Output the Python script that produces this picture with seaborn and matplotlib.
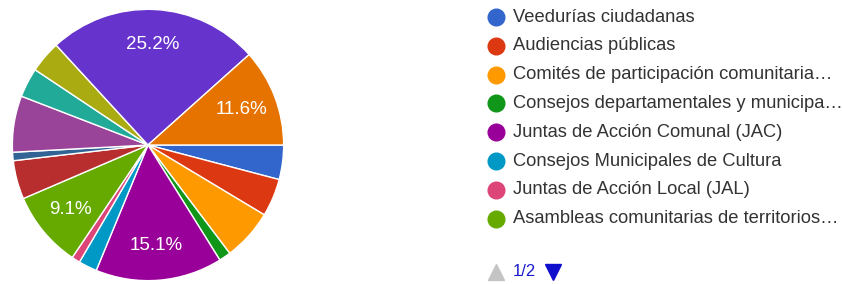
import matplotlib
matplotlib.use("Agg")
import matplotlib.pyplot as plt
import seaborn as sns

# legend entries shown on page 1/2
categories = [
    "Veedurías ciudadanas",
    "Audiencias públicas",
    "Comités de participación comunitaria…",
    "Consejos departamentales y municipa…",
    "Juntas de Acción Comunal (JAC)",
    "Consejos Municipales de Cultura",
    "Juntas de Acción Local (JAL)",
    "Asambleas comunitarias de territorios…",
]
# all 15 slices (percent), in chart order
values = [4.1, 4.5, 6.1, 1.4, 15.1, 2.2, 1.0, 9.1, 4.6, 1.0, 6.7, 3.5, 3.8, 25.2, 11.6]
colors = ["#3366cc", "#dc3912", "#ff9900", "#109618", "#990099", "#0099c6",
          "#dd4477", "#66aa00", "#b82e2e", "#316395", "#994499", "#22aa99",
          "#aaaa11", "#6633cc", "#e67300"]
page_label = "1/2"

sns.set_theme(style="white")
plt.rcParams["font.family"] = ["Liberation Sans", "DejaVu Sans"]
palette = sns.color_palette(colors)

fig = plt.figure(figsize=(8.42, 2.84), dpi=100)
W, H = 842, 284
cx, cy, r = 148, 145, 137
ax = fig.add_axes([(cx - r) / W, (H - cy - r) / H, 2 * r / W, 2 * r / H])

def fmt(p):
    return f"{p:.1f}%" if p >= 9 else ""

wedges, _, autotexts = ax.pie(
    values, colors=palette, startangle=0, counterclock=False,
    autopct=fmt, pctdistance=0.74, radius=1,
    wedgeprops=dict(edgecolor="white", linewidth=1),
    textprops=dict(color="white", fontsize=13.5),
)
ax.set_xlim(-1.01, 1.01)
ax.set_ylim(-1.01, 1.01)
ax.set_aspect("equal")
ax.axis("off")

# legend
x_dot, x_txt = 496 / W, 513 / W
for i, name in enumerate(categories):
    y = 1 - (17 + i * 28.8) / H
    fig.lines.append(plt.Line2D([x_dot], [y], transform=fig.transFigure, marker="o",
                                markersize=12, color=colors[i], linestyle="none"))
    fig.text(x_txt, y, name, fontsize=13.2, color="#333333", va="center", ha="left")

# pager
yp = 1 - 272 / H
fig.lines.append(plt.Line2D([496 / W], [yp], transform=fig.transFigure, marker="^",
                            markersize=11, color="#c4c4c4", linestyle="none"))
fig.text(513 / W, yp, page_label, fontsize=12, color="#1a1acc", va="center", ha="left")
fig.lines.append(plt.Line2D([553 / W], [yp], transform=fig.transFigure, marker="v",
                            markersize=12, color="#1010cc", linestyle="none"))

fig.savefig("out.png", dpi=100, facecolor="white")
